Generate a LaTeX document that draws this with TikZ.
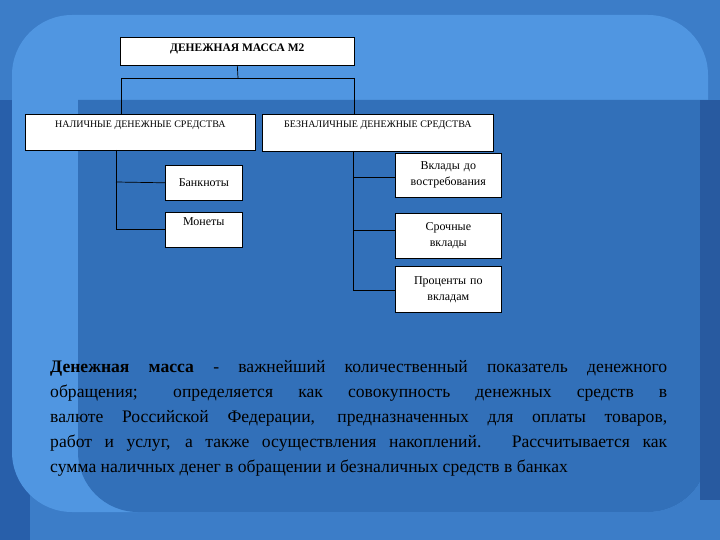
\documentclass[tikz,border=0pt]{standalone}
\usepackage{fontspec}
\setmainfont{Liberation Serif}
\begin{document}
\begin{tikzpicture}[x=1pt,y=-1pt,
  bx/.style={draw=black,fill=white,line width=0.6pt,inner sep=1pt,align=center,font=\fontsize{12}{16}\selectfont},
  ln/.style={draw=black,line width=0.7pt}]
\useasboundingbox (0,0) rectangle (720,540);
\fill[color={rgb,255:red,60;green,125;blue,200}] (0,0) rectangle (720,540);
\fill[color={rgb,255:red,40;green,95;blue,170}] (0,100) rectangle (30,540);
\fill[color={rgb,255:red,80;green,150;blue,225},rounded corners=60pt] (12,15) rectangle (708,512);
\fill[color={rgb,255:red,50;green,112;blue,185}] (78,100) -- (708,100) -- (708,450) [rounded corners=60pt]-- (708,512) -- (78,512) [sharp corners]-- cycle;
\fill[color={rgb,255:red,40;green,90;blue,160}] (700,100) rectangle (720,500);
\node[bx,minimum width=234pt,minimum height=28pt,anchor=north west,text depth=8pt] (m2) at (120,37) {\fontsize{11.5}{13}\selectfont\bfseries ДЕНЕЖНАЯ МАССА М2};
\node[bx,minimum width=230pt,minimum height=36pt,anchor=north west,text depth=17pt] (nal) at (25,114) {\fontsize{10}{12}\selectfont НАЛИЧНЫЕ ДЕНЕЖНЫЕ СРЕДСТВА};
\node[bx,minimum width=231pt,minimum height=37pt,anchor=north west,text depth=17pt] (bez) at (262,114) {\fontsize{10}{12}\selectfont БЕЗНАЛИЧНЫЕ ДЕНЕЖНЫЕ СРЕДСТВА};
\node[bx,minimum width=77pt,minimum height=35pt,anchor=north west] (bank) at (165,165) {Банкноты};
\node[bx,minimum width=77pt,minimum height=35pt,anchor=north west,text depth=17pt] (mon) at (165,212) {Монеты};
\node[bx,text width=104pt,minimum height=44pt,anchor=north west] (vd) at (395,153) {Вклады до\\востребования};
\node[bx,text width=104pt,minimum height=45pt,anchor=north west] (sv) at (395,213) {Срочные\\вклады};
\node[bx,text width=104pt,minimum height=46pt,anchor=north west] (pv) at (395,266) {Проценты по\\вкладам};
\coordinate (j) at (238,78);
\draw[ln] (m2.south) -- (j);
\draw[ln] (121,78) -- (354,78);
\draw[ln] (121,78) -- (121,114);
\draw[ln] (354,78) -- (354,114);
\draw[ln] (116,150) -- (116,229) -- (mon.west |- 0,229);
\draw[ln] (116,182) -- (bank.west);
\draw[ln] (353,151) -- (353,290) -- (pv.west |- 0,290);
\draw[ln] (353,177) -- (vd.west |- 0,177);
\draw[ln] (353,230) -- (sv.west |- 0,230);
\node[anchor=north west,text width=617pt,align=justify,inner sep=0pt,font=\fontsize{17.6}{25}\selectfont] (txt) at (50,360) {\textbf{Денежная масса} - важнейший количественный показатель денежного\linebreak обращения; определяется как совокупность денежных средств в\linebreak валюте Российской Федерации, предназначенных для оплаты товаров,\linebreak работ и услуг, а также осуществления накоплений. Рассчитывается как\linebreak сумма наличных денег в обращении и безналичных средств в банках};
\end{tikzpicture}
\end{document}
